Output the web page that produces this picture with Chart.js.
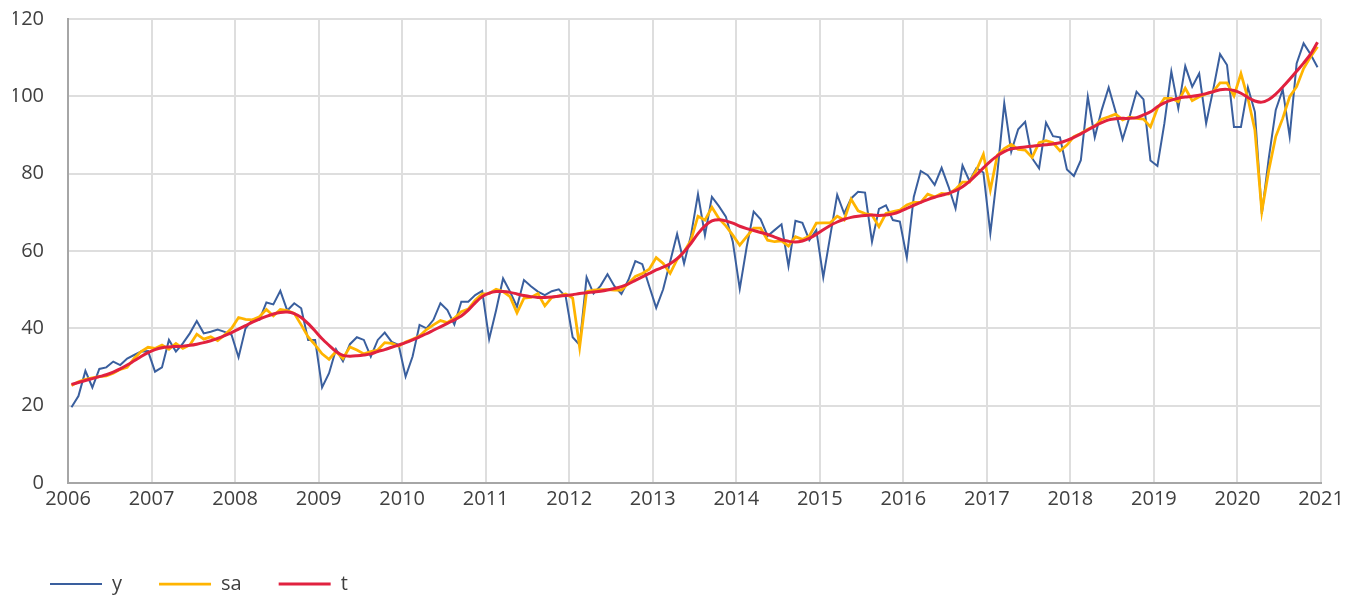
<!DOCTYPE html>
<html>
<head>
<meta charset="utf-8">
<script src="https://cdn.jsdelivr.net/npm/chart.js@4.4.1/dist/chart.umd.min.js"></script>
<style>
  html,body{margin:0;padding:0;background:#fff;}
  #wrap{width:1363px;height:595px;position:relative;}
</style>
</head>
<body>
<div id="wrap"><canvas id="chart"></canvas></div>
<script>
// monthly series, Jan 2006 .. Dec 2020
const startYear = 2006;
const yearTicks = [2006,2007,2008,2009,2010,2011,2012,2013,2014,2015,2016,2017,2018,2019,2020,2021];
const yTicks = [0,20,40,60,80,100,120];

const y = [
  19.6,22.5,29.0,24.7,29.5,29.9,31.4,30.5,32.2,33.1,34.0,34.1,
  28.8,29.9,37.0,34.0,36.1,38.7,41.9,38.7,39.1,39.7,39.1,38.3,
  32.5,40.0,42.2,42.2,46.7,46.2,49.7,44.6,46.5,45.2,37.0,37.0,
  24.7,28.4,34.6,31.5,35.9,37.7,37.0,32.7,37.0,38.9,36.5,35.7,
  27.5,32.7,40.9,40.0,42.2,46.5,44.7,41.0,46.9,46.9,48.6,49.7,
  37.2,44.7,52.9,49.5,45.6,52.5,50.9,49.5,48.6,49.6,50.1,48.2,
  37.7,35.7,53.2,49.0,51.0,54.0,50.9,48.9,52.5,57.4,56.6,50.9,
  45.3,50.1,57.2,64.4,56.8,64.1,74.7,64.1,74.0,71.6,68.9,62.4,
  50.2,61.1,70.2,68.2,63.9,65.4,66.9,56.1,67.8,67.3,62.8,65.4,
  53.2,63.9,74.5,69.7,73.6,75.3,75.1,62.4,70.9,71.8,68.0,67.6,
  58.3,74.0,80.7,79.6,77.1,81.5,76.6,71.0,82.1,78.1,81.4,80.3,
  64.6,80.0,98.2,85.7,91.5,93.4,84.0,81.4,93.2,89.7,89.4,81.1,
  79.4,83.5,99.9,89.4,96.5,102.3,96.0,88.9,94.7,101.2,99.2,83.4,
  82.0,93.0,106.4,96.9,107.8,102.5,105.9,93.0,101.6,110.9,108.1,92.1,
  92.1,102.3,96.0,69.6,84.0,96.5,101.8,89.6,108.5,113.7,110.9,107.5
];

const sa = [
  25.2,26.2,26.8,27.2,27.5,27.7,28.4,29.4,29.9,32.2,34.0,35.1,
  34.8,35.7,34.6,36.1,34.8,35.7,38.5,37.2,37.8,36.8,38.3,40.0,
  42.8,42.3,42.2,43.0,44.9,43.2,44.9,44.6,43.9,40.9,37.8,35.7,
  33.4,32.0,34.0,32.2,35.2,34.4,33.4,34.0,34.4,36.3,36.1,35.4,
  36.5,37.2,38.0,39.7,40.9,42.0,41.5,42.6,44.3,45.0,47.3,48.9,
  49.0,50.1,49.5,48.2,44.0,47.8,48.0,49.0,45.8,48.0,48.4,48.9,
  47.8,35.1,49.5,49.9,50.0,50.0,49.9,49.9,51.6,53.4,54.2,55.3,
  58.3,56.8,54.2,57.8,59.8,62.8,69.0,68.0,71.3,68.4,66.5,64.1,
  61.5,63.7,65.9,65.9,62.8,62.4,62.6,61.3,63.7,63.0,63.9,67.2,
  67.3,67.3,69.0,68.0,73.4,70.4,69.7,69.3,66.3,69.7,70.2,70.6,
  71.9,72.6,72.6,74.7,74.0,74.9,74.7,76.0,77.8,77.8,80.9,85.0,
  75.8,84.8,86.5,87.6,86.3,86.1,84.2,88.0,88.5,88.0,85.9,87.4,
  89.6,90.4,91.5,92.3,94.1,94.7,95.4,93.9,94.6,94.3,94.1,92.1,
  96.9,99.5,99.5,98.6,102.1,98.9,99.9,100.6,101.2,103.5,103.5,100.1,
  105.9,99.5,91.3,70.2,80.9,89.6,94.3,99.9,102.5,107.2,110.2,112.8
];

const t = [
  25.5,26.0,26.5,27.0,27.5,28.0,28.7,29.5,30.5,31.6,32.7,33.7,
  34.5,35.0,35.2,35.3,35.4,35.6,35.9,36.3,36.8,37.4,38.1,38.9,
  39.8,40.7,41.6,42.4,43.1,43.7,44.1,44.2,43.8,42.8,41.2,39.3,
  37.3,35.6,34.0,33.0,32.8,32.9,33.1,33.4,34.0,34.5,35.1,35.7,
  36.3,37.0,37.8,38.6,39.5,40.4,41.3,42.2,43.2,44.7,46.6,48.2,
  49.1,49.5,49.5,49.3,48.9,48.5,48.2,48.0,48.0,48.1,48.3,48.5,
  48.7,49.0,49.2,49.4,49.6,49.9,50.3,50.8,51.5,52.4,53.3,54.2,
  55.1,55.8,56.7,58.0,59.8,62.0,64.5,66.5,67.8,68.1,67.8,67.2,
  66.4,65.8,65.3,64.8,64.3,63.6,62.9,62.5,62.3,62.6,63.3,64.3,
  65.5,66.6,67.5,68.2,68.7,69.0,69.2,69.3,69.2,69.3,69.6,70.2,
  71.0,71.8,72.6,73.3,73.9,74.4,74.9,75.6,76.6,78.0,79.7,81.5,
  83.2,84.6,85.7,86.4,86.7,86.9,87.1,87.3,87.5,87.7,88.0,88.6,
  89.4,90.3,91.3,92.3,93.2,93.9,94.2,94.3,94.3,94.5,95.2,96.0,
  97.3,98.3,99.0,99.5,99.8,100.0,100.3,100.7,101.2,101.7,101.8,101.5,
  100.8,99.7,98.8,98.5,99.2,100.6,102.4,104.4,106.5,108.6,110.9,114.0
];

// month i sits in the middle of its month on a year axis
const pts = arr => arr.map((v,i)=>({x:startYear+(i+0.5)/12, y:v}));

const FONT = {family:'"Open Sans", sans-serif', size:20};
const GRID = '#dedede', AXIS = '#a6a6a6', TXT = '#404040';

new Chart(document.getElementById('chart'), {
  type:'line',
  data:{datasets:[
    {label:'y',  data:pts(y),  borderColor:'#3a5f9e', backgroundColor:'#3a5f9e', borderWidth:2,    order:3},
    {label:'sa', data:pts(sa), borderColor:'#ffb400', backgroundColor:'#ffb400', borderWidth:2.75, order:2},
    {label:'t',  data:pts(t),  borderColor:'#e1213f', backgroundColor:'#e1213f', borderWidth:3,    order:1, tension:0.3}
  ]},
  options:{
    responsive:true, maintainAspectRatio:false, animation:false,
    elements:{point:{radius:0}, line:{tension:0, fill:false}},
    layout:{padding:{left:13, right:42, top:19, bottom:-9}},
    plugins:{
      tooltip:{enabled:false},
      legend:{
        position:'bottom', align:'start',
        labels:{
          usePointStyle:true, pointStyle:'line', pointStyleWidth:52,
          padding:37, color:TXT, font:FONT,
          sort:(a,b)=>a.datasetIndex-b.datasetIndex
        }
      }
    },
    scales:{
      x:{
        type:'linear', min:yearTicks[0], max:yearTicks[yearTicks.length-1],
        afterBuildTicks:s=>{ s.ticks = yearTicks.map(v=>({value:v})); },
        afterFit:s=>{ s.height = 54; },
        ticks:{autoSkip:false, maxRotation:0, padding:4, color:TXT, font:FONT, callback:v=>String(v)},
        grid:{color:GRID, lineWidth:2, drawTicks:false},
        border:{color:AXIS, width:2}
      },
      y:{
        min:yTicks[0], max:yTicks[yTicks.length-1],
        afterBuildTicks:s=>{ s.ticks = yTicks.map(v=>({value:v})); },
        afterFit:s=>{ s.width = 55; },
        ticks:{padding:0, color:TXT, font:FONT},
        // invisible tick marks keep the labels clear of the axis
        grid:{color:GRID, lineWidth:2, drawTicks:true, tickLength:24, tickColor:'rgba(0,0,0,0)'},
        border:{color:AXIS, width:2}
      }
    }
  }
});
</script>
</body>
</html>
